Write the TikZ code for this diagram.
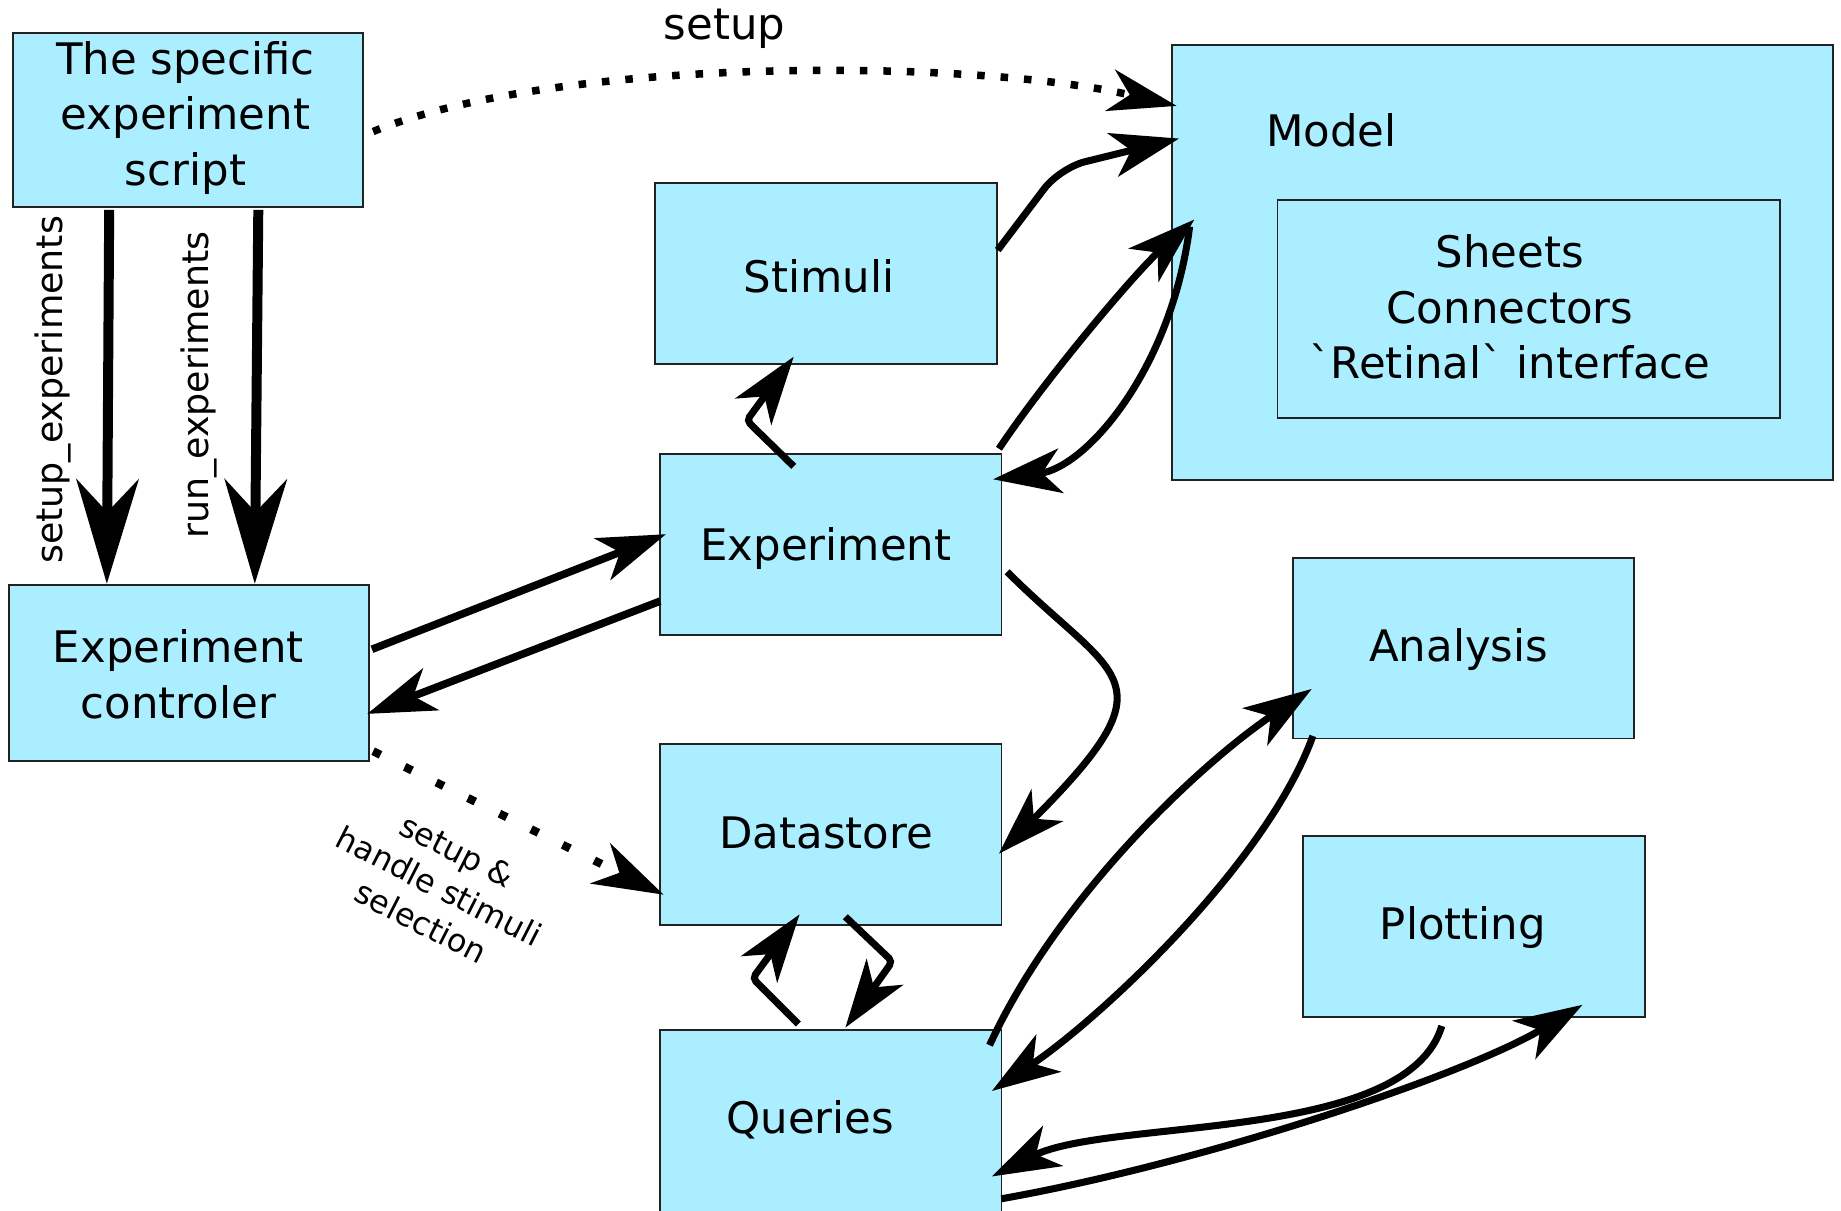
\documentclass[tikz,border=0pt]{standalone}
\usepackage{fontspec}
\setmainfont{DejaVu Sans}
\usetikzlibrary{arrows.meta}
\definecolor{boxfill}{HTML}{AAEEFF}
\definecolor{boxline}{HTML}{222222}
\begin{document}
\begin{tikzpicture}[x=1pt,y=-1pt,
  box/.style 2 args={draw=boxline,fill=boxfill,line width=1.6pt,rectangle,inner sep=0pt,minimum width=#1,minimum height=#2},
  lblone/.style={font=\fontsize{37}{47.4}\selectfont,inner sep=0pt},
  lblm/.style={font=\fontsize{37}{47.4}\selectfont,inner sep=0pt,align=center},
  lblv/.style={font=\fontsize{31}{37}\selectfont,inner sep=0pt},
  lbls/.style={font=\fontsize{27}{34}\selectfont,inner sep=0pt,align=center},
  arr/.style={line width=6pt,-{Stealth[length=58pt,width=38pt,inset=16pt]}},
  bigarr/.style={line width=8.5pt,-{Stealth[length=89pt,width=53pt,inset=28pt]}},
  dotA/.style={line width=6.4pt,dash pattern=on 6.4pt off 13.6pt,-{Stealth[length=58pt,width=36pt,inset=17pt]}},
  dotB/.style={line width=7pt,dash pattern=on 7pt off 23pt,-{Stealth[length=60pt,width=38pt,inset=18pt]}}
]
\useasboundingbox (0,0) rectangle (1568,1031);
\fill[white] (0,0) rectangle (1568,1031);

% boxes
\node[box={298}{148}] (script) at (160,102) {};
\node[lblm] (script-t) at (158,100.4) {The specific\\experiment\\script};
\node[box={563}{371}] (model) at (1279.5,223.5) {};
\node[box={428}{186}] (inner) at (1302,263) {};
\node[lblone,anchor=base] (model-t) at (1134,124.9) {Model};
\node[lblm] (inner-t) at (1286,261.4) {Sheets\\Connectors\\\textasciigrave Retinal\textasciigrave{} interface};
\node[box={291}{154}] (stim) at (703.5,233) {};
\node[lblone,anchor=base] (stim-t) at (697.5,249.5) {Stimuli};
\node[box={291}{154}] (exp) at (707.5,464) {};
\node[lblone,anchor=base] (exp-t) at (703.5,477) {Experiment};
\node[box={306}{150}] (ctrl) at (161,573) {};
\node[lblm] (ctrl-t) at (152,574.3) {Experiment\\controler};
\node[box={291}{154}] (ds) at (707.5,711) {};
\node[lblone,anchor=base] (ds-t) at (703.6,722.4) {Datastore};
\node[box={291}{160}] (qry) at (707.5,957) {};
\node[lblone,anchor=base] (qry-t) at (690,965) {Queries};
\node[box={291}{154}] (ana) at (1246.5,552) {};
\node[lblone,anchor=base] (ana-t) at (1242.4,563.6) {Analysis};
\node[box={291}{154}] (plot) at (1255.5,789) {};
\node[lblone,anchor=base] (plot-t) at (1246,800) {Plotting};

% labels
\node[lblv,rotate=90,anchor=base] (l-setupexp) at (53,332) {setup\_experiments};
\node[lblv,rotate=90,anchor=base] (l-runexp) at (178,328) {run\_experiments};
\node[lblone,anchor=base] (l-setup) at (617,34) {setup};
\node[lbls,rotate=-27] (l-sel) at (374,755) {setup \&\\handle stimuli\\selection};

% connectors
\draw[dotA] ([shift={(8,10)}]script.east) .. controls +(160,-65) and +(-170,-40) .. ([shift={(5,53)}]model.north west);
\draw[bigarr] ([shift={(-67,2)}]script.south) -- ([shift={(-70,0)}]ctrl.north);
\draw[bigarr] ([shift={(60,2)}]script.south) -- ([shift={(56,0)}]ctrl.north);
\draw[arr,line width=6.5pt] ([shift={(2,-20)}]ctrl.east) -- ([shift={(6,-9)}]exp.west);
\draw[arr,line width=6.5pt] ([shift={(1,48)}]exp.west) -- ([shift={(-2,35)}]ctrl.east);
\draw[dotB] ([shift={(3,-9)}]ctrl.south east) -- ([shift={(4,51)}]ds.west);
\draw[arr,rounded corners=4pt] ([shift={(-31.5,11)}]exp.north) -- ++(-40,-39) -- ([shift={(-27.5,-7)}]stim.south);
\draw[arr,rounded corners=22pt] ([shift={(0,-20)}]stim.east) -- ++(53,-70) -- ([shift={(7,-105.5)}]model.west);
\draw[arr] ([shift={(-3,-4)}]exp.north east) .. controls +(40,-60) and +(-50,45) .. ([shift={(20,-36.5)}]model.west);
\draw[arr] ([shift={(16,-30.5)}]model.west) .. controls +(-15,120) and +(80,-10) .. ([shift={(-8,22)}]exp.north east);
\draw[arr] ([shift={(4,23)}]exp.east) .. controls +(93,93) and +(151,-151) .. ([shift={(-3,16)}]ds.east);
\draw[arr,rounded corners=4pt] ([shift={(12.5,-8)}]ds.south) -- ++(40,38) -- ([shift={(12.5,-1)}]qry.north);
\draw[arr,rounded corners=4pt] ([shift={(-27.5,-4)}]qry.north) -- ++(-39,-39) -- ([shift={(-26.5,-10)}]ds.south);
\draw[arr] ([shift={(-11,14)}]qry.north east) .. controls +(60,-130) and +(-90,60) .. ([shift={(17,-43)}]ana.south west);
\draw[arr] ([shift={(18,-3)}]ana.south west) .. controls +(-40,110) and +(90,-60) .. ([shift={(-9,53)}]qry.north east);
\draw[arr] ([shift={(-27.5,7)}]plot.south) .. controls +(-30,100) and +(100,-50) .. ([shift={(-9,45)}]qry.east);
\draw[arr] ([shift={(-1,64)}]qry.east) .. controls +(170,-30) and +(-100,60) .. ([shift={(-54,-11)}]plot.south east);
\end{tikzpicture}
\end{document}
